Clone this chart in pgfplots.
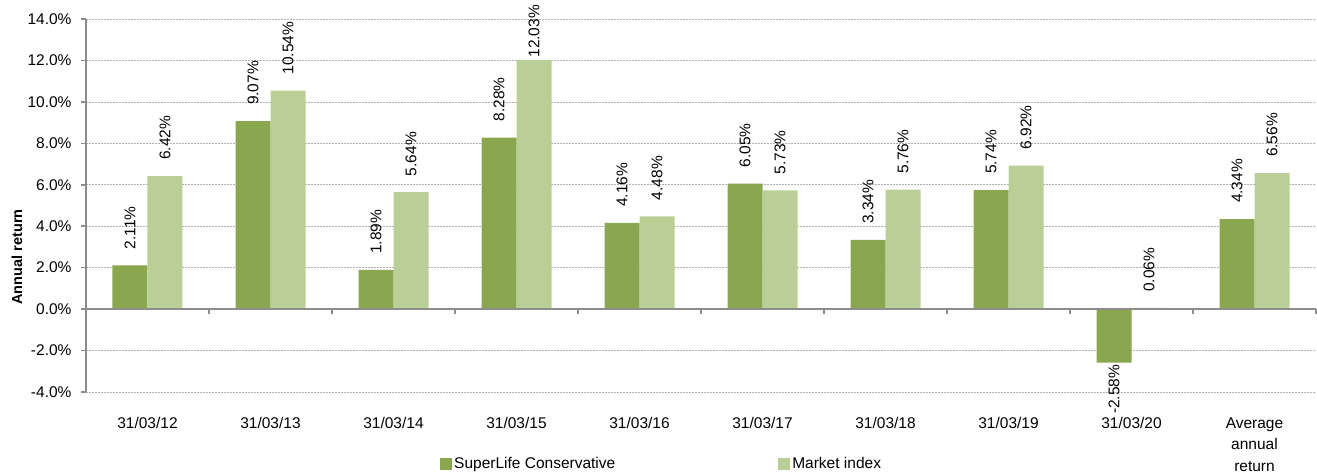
\documentclass[border=0pt]{standalone}
\usepackage{fontspec}
\setmainfont{Liberation Sans}
\usepackage{graphicx}
\usepackage{pgfplots}
\pgfplotsset{compat=1.18}
\usepackage{pgfplotstable}

\definecolor{darkg}{RGB}{138,166,79}
\definecolor{lightg}{RGB}{186,207,150}
\definecolor{axisgray}{RGB}{140,140,140}
\definecolor{gridgray}{RGB}{175,175,175}

\newcommand{\fs}{\fontsize{15.5}{21.5}\selectfont}

% SuperLife Conservative (off = label offset from the bar end)
\pgfplotstableread{
x y off
0 2.11 16
1 9.07 16
2 1.89 16
3 8.28 16
4 4.16 16
5 6.05 16
6 3.34 16
7 5.74 16
8 -2.58 -2
9 4.34 16
}\superlife
% Market index
\pgfplotstableread{
x y off
0 6.42 16
1 10.54 16
2 5.64 16
3 12.03 2
4 4.48 16
5 5.73 16
6 5.76 16
7 6.92 16
8 0.06 16
9 6.56 16
}\market

\begin{document}
\begin{tikzpicture}
\begin{axis}[
  scale only axis, width=1230pt, height=373pt,
  xmin=-0.5, xmax=9.5, ymin=-4, ymax=14,
  separate axis lines,
  axis x line*=bottom, axis y line*=left,
  x axis line style={draw=none},
  y axis line style={axisgray, line width=1.5pt, -},
  xtick={0,...,9},
  xticklabels={31/03/12,31/03/13,31/03/14,31/03/15,31/03/16,31/03/17,31/03/18,31/03/19,31/03/20,{Average\\annual\\return}},
  xticklabel style={align=center, font=\fs, text=black, anchor=north, yshift=-17pt},
  x tick style={draw=none},
  ytick={-4,-2,...,14},
  yticklabel={\pgfmathprintnumber[fixed,fixed zerofill,precision=1]{\tick}\%},
  yticklabel style={font=\fs, text=black, xshift=-6pt},
  y tick style={axisgray, line width=1.5pt},
  tick align=outside, major tick length=5pt,
  ymajorgrids,
  major grid style={gridgray, dash pattern=on 2pt off 1pt, line width=0.7pt},
  ylabel={\textbf{Annual return}},
  ylabel style={font=\fontsize{14.5}{16}\selectfont, at={(axis description cs:-0.0561,0.362)}, anchor=center, rotate=0},
  /pgf/number format/assume math mode=true,
  clip=false,
  legend columns=2,
  legend style={at={(axis description cs:0.2878,-0.193)}, anchor=west, draw=none, fill=none, inner sep=0pt,
    font=\fs, /tikz/every even column/.append style={column sep=161pt}},
  legend image code/.code={\fill[#1] (0pt,-6pt) rectangle (12pt,6pt);},
  nodes near coords align={vertical},
]
\addplot[ybar, bar width=35pt, bar shift=-17.5pt, fill=darkg, draw=none,
  visualization depends on={\thisrow{off} \as \off},
  nodes near coords={\rotatebox{90}{\pgfmathprintnumber[fixed,fixed zerofill,precision=2]{\pgfplotspointmeta}\%}},
  every node near coord/.append style={font=\fs, text=black, inner sep=0pt, xshift=-17.5pt, yshift=\off pt}]
  table[x=x,y=y]{\superlife};
\addlegendentry{SuperLife Conservative}
\addplot[ybar, bar width=35pt, bar shift=17.5pt, fill=lightg, draw=none,
  visualization depends on={\thisrow{off} \as \off},
  nodes near coords={\rotatebox{90}{\pgfmathprintnumber[fixed,fixed zerofill,precision=2]{\pgfplotspointmeta}\%}},
  every node near coord/.append style={font=\fs, text=black, inner sep=0pt, xshift=17.5pt, yshift=\off pt}]
  table[x=x,y=y]{\market};
\addlegendentry{Market index}
% zero line and category boundary ticks
\draw[axisgray, line width=1.5pt] (axis cs:-0.5,0) -- (axis cs:9.5,0);
\pgfplotsinvokeforeach{-0.5,0.5,...,9.5}{
  \draw[axisgray, line width=1.5pt] (axis cs:#1,0) -- ++(0pt,-5pt);
}
\end{axis}
\path (current axis.south west) ++(-86pt,-81pt) coordinate (bl);
\path (current axis.north east) ++(1pt,19pt) coordinate (tr);
\pgfresetboundingbox
\path[use as bounding box] (bl) rectangle (tr);
\end{tikzpicture}
\end{document}
